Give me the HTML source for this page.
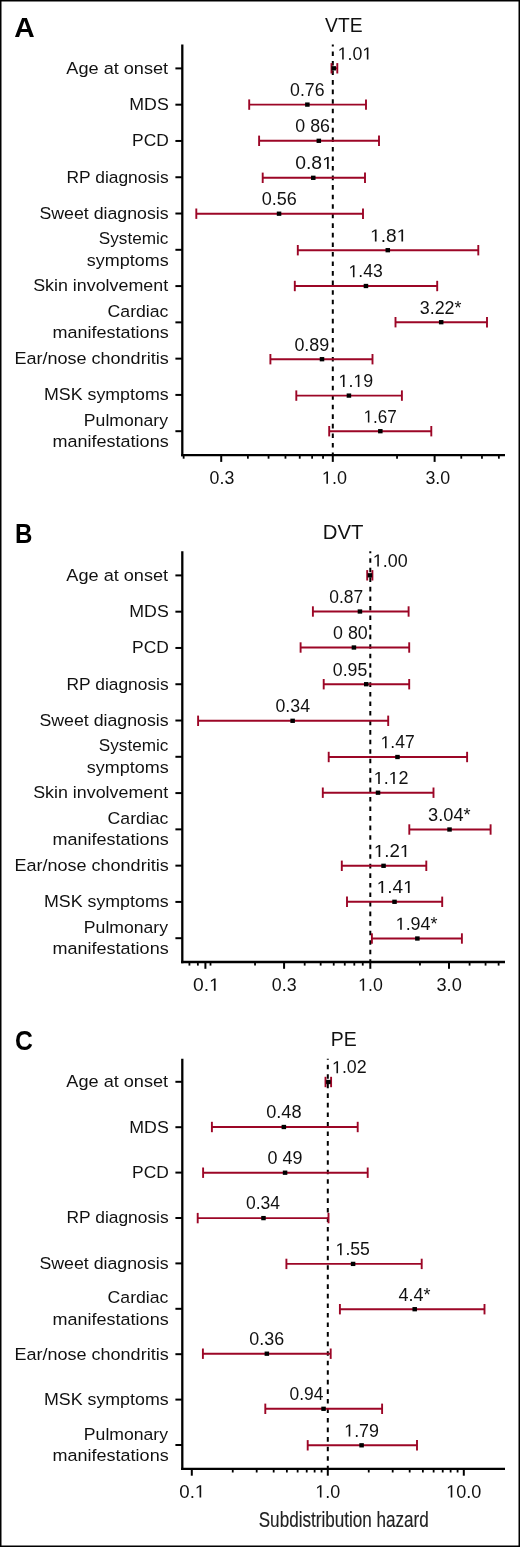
<!DOCTYPE html>
<html><head><meta charset="utf-8"><style>
html,body{margin:0;padding:0;background:#fff;}
body{width:520px;height:1547px;overflow:hidden;}
svg{display:block;will-change:transform;font-family:"Liberation Sans",sans-serif;}
</style></head><body>
<svg width="520" height="1547" viewBox="0 0 520 1547">
<rect x="0" y="0" width="520" height="1547" fill="#fff"/>
<rect x="0.75" y="0.75" width="518.5" height="1545.5" fill="none" stroke="#000" stroke-width="1.5"/>
<text x="14.29" y="36.70" font-size="27" textLength="20.45" lengthAdjust="spacingAndGlyphs" font-weight="bold" fill="#000">A</text>
<text x="325.12" y="32.20" font-size="20.5" textLength="37.41" lengthAdjust="spacingAndGlyphs" fill="#111">VTE</text>
<line x1="182.30" y1="44.50" x2="182.30" y2="456.30" stroke="#000" stroke-width="2.3"/>
<line x1="181.15" y1="455.10" x2="505.00" y2="455.10" stroke="#000" stroke-width="2.4"/>
<line x1="221.22" y1="455.10" x2="221.22" y2="461.90" stroke="#000" stroke-width="2"/>
<line x1="332.80" y1="455.10" x2="332.80" y2="461.90" stroke="#000" stroke-width="2"/>
<line x1="434.62" y1="455.10" x2="434.62" y2="461.90" stroke="#000" stroke-width="2"/>
<line x1="183.64" y1="455.10" x2="183.64" y2="458.70" stroke="#000" stroke-width="1.8"/>
<line x1="247.88" y1="455.10" x2="247.88" y2="458.70" stroke="#000" stroke-width="1.8"/>
<line x1="268.56" y1="455.10" x2="268.56" y2="458.70" stroke="#000" stroke-width="1.8"/>
<line x1="285.46" y1="455.10" x2="285.46" y2="458.70" stroke="#000" stroke-width="1.8"/>
<line x1="299.74" y1="455.10" x2="299.74" y2="458.70" stroke="#000" stroke-width="1.8"/>
<line x1="312.12" y1="455.10" x2="312.12" y2="458.70" stroke="#000" stroke-width="1.8"/>
<line x1="323.04" y1="455.10" x2="323.04" y2="458.70" stroke="#000" stroke-width="1.8"/>
<line x1="397.04" y1="455.10" x2="397.04" y2="458.70" stroke="#000" stroke-width="1.8"/>
<line x1="461.28" y1="455.10" x2="461.28" y2="458.70" stroke="#000" stroke-width="1.8"/>
<line x1="481.96" y1="455.10" x2="481.96" y2="458.70" stroke="#000" stroke-width="1.8"/>
<line x1="498.86" y1="455.10" x2="498.86" y2="458.70" stroke="#000" stroke-width="1.8"/>
<text x="209.61" y="483.80" font-size="17.8" textLength="24.67" lengthAdjust="spacingAndGlyphs" fill="#111">0.3</text>
<polygon points="326.40,483.80 326.40,473.05 323.60,475.02 323.60,473.54 326.53,471.55 327.99,471.55 327.99,483.80" fill="#111"/>
<text x="321.87" y="483.80" font-size="17.8" textLength="25.04" lengthAdjust="spacingAndGlyphs" fill="#111"> .0</text>
<text x="425.42" y="483.80" font-size="17.8" textLength="24.77" lengthAdjust="spacingAndGlyphs" fill="#111">3.0</text>
<line x1="332.80" y1="44.50" x2="332.80" y2="454.10" stroke="#000" stroke-width="2" stroke-dasharray="4.6 4.95" stroke-dashoffset="2.65"/>
<line x1="175.40" y1="68.40" x2="182.30" y2="68.40" stroke="#000" stroke-width="2"/>
<text x="66.36" y="73.70" font-size="17.2" textLength="101.77" lengthAdjust="spacingAndGlyphs" fill="#111">Age at onset</text>
<line x1="331.50" y1="68.30" x2="337.30" y2="68.30" stroke="#9c0626" stroke-width="1.9"/>
<line x1="331.50" y1="63.10" x2="331.50" y2="73.50" stroke="#9c0626" stroke-width="1.9"/>
<line x1="337.30" y1="63.10" x2="337.30" y2="73.50" stroke="#9c0626" stroke-width="1.9"/>
<rect x="331.47" y="66.15" width="4.50" height="4.30" fill="#000"/>
<polygon points="342.16,59.60 342.16,49.03 339.40,50.97 339.40,49.52 342.29,47.56 343.72,47.56 343.72,59.60" fill="#111"/>
<polygon points="366.83,59.60 366.83,49.03 364.08,50.97 364.08,49.52 366.96,47.56 368.40,47.56 368.40,59.60" fill="#111"/>
<text x="337.69" y="59.60" font-size="17.5" textLength="34.55" lengthAdjust="spacingAndGlyphs" fill="#111"> .0 </text>
<line x1="175.40" y1="104.68" x2="182.30" y2="104.68" stroke="#000" stroke-width="2"/>
<text x="129.34" y="109.98" font-size="17.2" textLength="39.47" lengthAdjust="spacingAndGlyphs" fill="#111">MDS</text>
<line x1="249.20" y1="104.60" x2="366.00" y2="104.60" stroke="#9c0626" stroke-width="1.9"/>
<line x1="249.20" y1="99.40" x2="249.20" y2="109.80" stroke="#9c0626" stroke-width="1.9"/>
<line x1="366.00" y1="99.40" x2="366.00" y2="109.80" stroke="#9c0626" stroke-width="1.9"/>
<rect x="305.12" y="102.45" width="4.50" height="4.30" fill="#000"/>
<text x="290.06" y="95.90" font-size="17.5" textLength="34.47" lengthAdjust="spacingAndGlyphs" fill="#111">0.76</text>
<line x1="175.40" y1="140.96" x2="182.30" y2="140.96" stroke="#000" stroke-width="2"/>
<text x="132.07" y="146.26" font-size="17.2" textLength="36.76" lengthAdjust="spacingAndGlyphs" fill="#111">PCD</text>
<line x1="259.10" y1="140.80" x2="379.00" y2="140.80" stroke="#9c0626" stroke-width="1.9"/>
<line x1="259.10" y1="135.60" x2="259.10" y2="146.00" stroke="#9c0626" stroke-width="1.9"/>
<line x1="379.00" y1="135.60" x2="379.00" y2="146.00" stroke="#9c0626" stroke-width="1.9"/>
<rect x="316.57" y="138.65" width="4.50" height="4.30" fill="#000"/>
<text x="295.30" y="132.10" font-size="17.5" textLength="34.68" lengthAdjust="spacingAndGlyphs" fill="#111">0 86</text>
<line x1="175.40" y1="177.24" x2="182.30" y2="177.24" stroke="#000" stroke-width="2"/>
<text x="66.58" y="182.54" font-size="17.2" textLength="102.05" lengthAdjust="spacingAndGlyphs" fill="#111">RP diagnosis</text>
<line x1="262.70" y1="177.80" x2="365.00" y2="177.80" stroke="#9c0626" stroke-width="1.9"/>
<line x1="262.70" y1="172.60" x2="262.70" y2="183.00" stroke="#9c0626" stroke-width="1.9"/>
<line x1="365.00" y1="172.60" x2="365.00" y2="183.00" stroke="#9c0626" stroke-width="1.9"/>
<rect x="311.02" y="175.65" width="4.50" height="4.30" fill="#000"/>
<polygon points="326.99,169.10 326.99,158.53 323.99,160.47 323.99,159.02 327.13,157.06 328.70,157.06 328.70,169.10" fill="#111"/>
<text x="295.24" y="169.10" font-size="17.5" textLength="37.64" lengthAdjust="spacingAndGlyphs" fill="#111">0.8 </text>
<line x1="175.40" y1="213.52" x2="182.30" y2="213.52" stroke="#000" stroke-width="2"/>
<text x="39.49" y="218.82" font-size="17.2" textLength="129.15" lengthAdjust="spacingAndGlyphs" fill="#111">Sweet diagnosis</text>
<line x1="196.30" y1="213.70" x2="363.00" y2="213.70" stroke="#9c0626" stroke-width="1.9"/>
<line x1="196.30" y1="208.50" x2="196.30" y2="218.90" stroke="#9c0626" stroke-width="1.9"/>
<line x1="363.00" y1="208.50" x2="363.00" y2="218.90" stroke="#9c0626" stroke-width="1.9"/>
<rect x="276.81" y="211.55" width="4.50" height="4.30" fill="#000"/>
<text x="261.70" y="205.00" font-size="17.5" textLength="35.10" lengthAdjust="spacingAndGlyphs" fill="#111">0.56</text>
<line x1="175.40" y1="249.80" x2="182.30" y2="249.80" stroke="#000" stroke-width="2"/>
<text x="98.82" y="244.40" font-size="17.2" textLength="69.63" lengthAdjust="spacingAndGlyphs" fill="#111">Systemic</text>
<text x="86.80" y="265.60" font-size="17.2" textLength="81.85" lengthAdjust="spacingAndGlyphs" fill="#111">symptoms</text>
<line x1="297.80" y1="250.20" x2="478.30" y2="250.20" stroke="#9c0626" stroke-width="1.9"/>
<line x1="297.80" y1="245.00" x2="297.80" y2="255.40" stroke="#9c0626" stroke-width="1.9"/>
<line x1="478.30" y1="245.00" x2="478.30" y2="255.40" stroke="#9c0626" stroke-width="1.9"/>
<rect x="385.54" y="248.05" width="4.50" height="4.30" fill="#000"/>
<polygon points="374.87,241.50 374.87,230.93 371.90,232.87 371.90,231.42 375.01,229.46 376.55,229.46 376.55,241.50" fill="#111"/>
<polygon points="401.41,241.50 401.41,230.93 398.45,232.87 398.45,231.42 401.55,229.46 403.10,229.46 403.10,241.50" fill="#111"/>
<text x="370.06" y="241.50" font-size="17.5" textLength="37.17" lengthAdjust="spacingAndGlyphs" fill="#111"> .8 </text>
<line x1="175.40" y1="286.08" x2="182.30" y2="286.08" stroke="#000" stroke-width="2"/>
<text x="33.19" y="291.38" font-size="17.2" textLength="134.94" lengthAdjust="spacingAndGlyphs" fill="#111">Skin involvement</text>
<line x1="294.80" y1="286.00" x2="437.20" y2="286.00" stroke="#9c0626" stroke-width="1.9"/>
<line x1="294.80" y1="280.80" x2="294.80" y2="291.20" stroke="#9c0626" stroke-width="1.9"/>
<line x1="437.20" y1="280.80" x2="437.20" y2="291.20" stroke="#9c0626" stroke-width="1.9"/>
<rect x="363.70" y="283.85" width="4.50" height="4.30" fill="#000"/>
<polygon points="352.93,277.30 352.93,266.73 350.20,268.67 350.20,267.22 353.05,265.26 354.48,265.26 354.48,277.30" fill="#111"/>
<text x="348.51" y="277.30" font-size="17.5" textLength="34.16" lengthAdjust="spacingAndGlyphs" fill="#111"> .43</text>
<line x1="175.40" y1="322.36" x2="182.30" y2="322.36" stroke="#000" stroke-width="2"/>
<text x="107.60" y="316.96" font-size="17.2" textLength="60.86" lengthAdjust="spacingAndGlyphs" fill="#111">Cardiac</text>
<text x="52.60" y="338.16" font-size="17.2" textLength="116.05" lengthAdjust="spacingAndGlyphs" fill="#111">manifestations</text>
<line x1="395.50" y1="322.20" x2="487.00" y2="322.20" stroke="#9c0626" stroke-width="1.9"/>
<line x1="395.50" y1="317.00" x2="395.50" y2="327.40" stroke="#9c0626" stroke-width="1.9"/>
<line x1="487.00" y1="317.00" x2="487.00" y2="327.40" stroke="#9c0626" stroke-width="1.9"/>
<rect x="438.93" y="320.05" width="4.50" height="4.30" fill="#000"/>
<text x="419.72" y="313.50" font-size="17.5" textLength="41.76" lengthAdjust="spacingAndGlyphs" fill="#111">3.22*</text>
<line x1="175.40" y1="358.64" x2="182.30" y2="358.64" stroke="#000" stroke-width="2"/>
<text x="14.52" y="363.94" font-size="17.2" textLength="154.13" lengthAdjust="spacingAndGlyphs" fill="#111">Ear/nose chondritis</text>
<line x1="270.40" y1="359.20" x2="372.50" y2="359.20" stroke="#9c0626" stroke-width="1.9"/>
<line x1="270.40" y1="354.00" x2="270.40" y2="364.40" stroke="#9c0626" stroke-width="1.9"/>
<line x1="372.50" y1="354.00" x2="372.50" y2="364.40" stroke="#9c0626" stroke-width="1.9"/>
<rect x="319.75" y="357.05" width="4.50" height="4.30" fill="#000"/>
<text x="294.40" y="350.50" font-size="17.5" textLength="34.85" lengthAdjust="spacingAndGlyphs" fill="#111">0.89</text>
<line x1="175.40" y1="394.92" x2="182.30" y2="394.92" stroke="#000" stroke-width="2"/>
<text x="43.94" y="400.22" font-size="17.2" textLength="124.70" lengthAdjust="spacingAndGlyphs" fill="#111">MSK symptoms</text>
<line x1="296.30" y1="395.60" x2="401.90" y2="395.60" stroke="#9c0626" stroke-width="1.9"/>
<line x1="296.30" y1="390.40" x2="296.30" y2="400.80" stroke="#9c0626" stroke-width="1.9"/>
<line x1="401.90" y1="390.40" x2="401.90" y2="400.80" stroke="#9c0626" stroke-width="1.9"/>
<rect x="346.67" y="393.45" width="4.50" height="4.30" fill="#000"/>
<polygon points="342.96,386.90 342.96,376.33 340.20,378.27 340.20,376.82 343.10,374.86 344.54,374.86 344.54,386.90" fill="#111"/>
<polygon points="357.82,386.90 357.82,376.33 355.05,378.27 355.05,376.82 357.95,374.86 359.39,374.86 359.39,386.90" fill="#111"/>
<text x="338.49" y="386.90" font-size="17.5" textLength="34.66" lengthAdjust="spacingAndGlyphs" fill="#111"> . 9</text>
<line x1="175.40" y1="431.20" x2="182.30" y2="431.20" stroke="#000" stroke-width="2"/>
<text x="83.86" y="425.80" font-size="17.2" textLength="84.18" lengthAdjust="spacingAndGlyphs" fill="#111">Pulmonary</text>
<text x="52.60" y="447.00" font-size="17.2" textLength="116.05" lengthAdjust="spacingAndGlyphs" fill="#111">manifestations</text>
<line x1="329.20" y1="431.20" x2="431.30" y2="431.20" stroke="#9c0626" stroke-width="1.9"/>
<line x1="329.20" y1="426.00" x2="329.20" y2="436.40" stroke="#9c0626" stroke-width="1.9"/>
<line x1="431.30" y1="426.00" x2="431.30" y2="436.40" stroke="#9c0626" stroke-width="1.9"/>
<rect x="378.08" y="429.05" width="4.50" height="4.30" fill="#000"/>
<polygon points="367.86,422.50 367.86,411.93 365.20,413.87 365.20,412.42 367.98,410.46 369.37,410.46 369.37,422.50" fill="#111"/>
<text x="363.55" y="422.50" font-size="17.5" textLength="33.31" lengthAdjust="spacingAndGlyphs" fill="#111"> .67</text>
<text x="15.09" y="543.20" font-size="27" textLength="17.41" lengthAdjust="spacingAndGlyphs" font-weight="bold" fill="#000">B</text>
<text x="322.73" y="538.80" font-size="20.5" textLength="40.63" lengthAdjust="spacingAndGlyphs" fill="#111">DVT</text>
<line x1="182.30" y1="551.30" x2="182.30" y2="963.20" stroke="#000" stroke-width="2.3"/>
<line x1="181.15" y1="962.00" x2="505.00" y2="962.00" stroke="#000" stroke-width="2.4"/>
<line x1="205.40" y1="962.00" x2="205.40" y2="968.80" stroke="#000" stroke-width="2"/>
<line x1="284.08" y1="962.00" x2="284.08" y2="968.80" stroke="#000" stroke-width="2"/>
<line x1="370.30" y1="962.00" x2="370.30" y2="968.80" stroke="#000" stroke-width="2"/>
<line x1="448.98" y1="962.00" x2="448.98" y2="968.80" stroke="#000" stroke-width="2"/>
<line x1="189.42" y1="962.00" x2="189.42" y2="965.60" stroke="#000" stroke-width="1.8"/>
<line x1="197.85" y1="962.00" x2="197.85" y2="965.60" stroke="#000" stroke-width="1.8"/>
<line x1="255.04" y1="962.00" x2="255.04" y2="965.60" stroke="#000" stroke-width="1.8"/>
<line x1="304.68" y1="962.00" x2="304.68" y2="965.60" stroke="#000" stroke-width="1.8"/>
<line x1="320.66" y1="962.00" x2="320.66" y2="965.60" stroke="#000" stroke-width="1.8"/>
<line x1="333.72" y1="962.00" x2="333.72" y2="965.60" stroke="#000" stroke-width="1.8"/>
<line x1="344.76" y1="962.00" x2="344.76" y2="965.60" stroke="#000" stroke-width="1.8"/>
<line x1="354.32" y1="962.00" x2="354.32" y2="965.60" stroke="#000" stroke-width="1.8"/>
<line x1="362.75" y1="962.00" x2="362.75" y2="965.60" stroke="#000" stroke-width="1.8"/>
<line x1="419.94" y1="962.00" x2="419.94" y2="965.60" stroke="#000" stroke-width="1.8"/>
<line x1="469.58" y1="962.00" x2="469.58" y2="965.60" stroke="#000" stroke-width="1.8"/>
<line x1="485.56" y1="962.00" x2="485.56" y2="965.60" stroke="#000" stroke-width="1.8"/>
<line x1="498.62" y1="962.00" x2="498.62" y2="965.60" stroke="#000" stroke-width="1.8"/>
<line x1="210.50" y1="962.00" x2="210.50" y2="965.60" stroke="#000" stroke-width="1.8"/>
<polygon points="213.89,990.70 213.89,979.95 210.90,981.92 210.90,980.44 214.04,978.45 215.60,978.45 215.60,990.70" fill="#111"/>
<text x="192.95" y="990.70" font-size="17.8" textLength="26.83" lengthAdjust="spacingAndGlyphs" fill="#111">0. </text>
<text x="271.80" y="990.70" font-size="17.8" textLength="24.78" lengthAdjust="spacingAndGlyphs" fill="#111">0.3</text>
<polygon points="362.56,990.70 362.56,979.95 359.80,981.92 359.80,980.44 362.69,978.45 364.13,978.45 364.13,990.70" fill="#111"/>
<text x="358.09" y="990.70" font-size="17.8" textLength="24.70" lengthAdjust="spacingAndGlyphs" fill="#111"> .0</text>
<text x="436.51" y="990.70" font-size="17.8" textLength="25.30" lengthAdjust="spacingAndGlyphs" fill="#111">3.0</text>
<line x1="370.30" y1="551.30" x2="370.30" y2="961.00" stroke="#000" stroke-width="2" stroke-dasharray="4.6 4.95" stroke-dashoffset="2.65"/>
<line x1="175.40" y1="575.40" x2="182.30" y2="575.40" stroke="#000" stroke-width="2"/>
<text x="66.36" y="580.70" font-size="17.2" textLength="101.77" lengthAdjust="spacingAndGlyphs" fill="#111">Age at onset</text>
<line x1="367.20" y1="575.30" x2="372.40" y2="575.30" stroke="#9c0626" stroke-width="1.9"/>
<line x1="367.20" y1="570.10" x2="367.20" y2="580.50" stroke="#9c0626" stroke-width="1.9"/>
<line x1="372.40" y1="570.10" x2="372.40" y2="580.50" stroke="#9c0626" stroke-width="1.9"/>
<rect x="367.65" y="573.15" width="4.50" height="4.30" fill="#000"/>
<polygon points="377.28,566.60 377.28,556.03 374.50,557.97 374.50,556.52 377.41,554.56 378.86,554.56 378.86,566.60" fill="#111"/>
<text x="372.78" y="566.60" font-size="17.5" textLength="34.82" lengthAdjust="spacingAndGlyphs" fill="#111"> .00</text>
<line x1="175.40" y1="611.68" x2="182.30" y2="611.68" stroke="#000" stroke-width="2"/>
<text x="129.34" y="616.98" font-size="17.2" textLength="39.47" lengthAdjust="spacingAndGlyphs" fill="#111">MDS</text>
<line x1="312.90" y1="611.50" x2="408.60" y2="611.50" stroke="#9c0626" stroke-width="1.9"/>
<line x1="312.90" y1="606.30" x2="312.90" y2="616.70" stroke="#9c0626" stroke-width="1.9"/>
<line x1="408.60" y1="606.30" x2="408.60" y2="616.70" stroke="#9c0626" stroke-width="1.9"/>
<rect x="357.68" y="609.35" width="4.50" height="4.30" fill="#000"/>
<text x="329.32" y="602.80" font-size="17.5" textLength="33.85" lengthAdjust="spacingAndGlyphs" fill="#111">0.87</text>
<line x1="175.40" y1="647.96" x2="182.30" y2="647.96" stroke="#000" stroke-width="2"/>
<text x="132.07" y="653.26" font-size="17.2" textLength="36.76" lengthAdjust="spacingAndGlyphs" fill="#111">PCD</text>
<line x1="300.60" y1="647.50" x2="409.20" y2="647.50" stroke="#9c0626" stroke-width="1.9"/>
<line x1="300.60" y1="642.30" x2="300.60" y2="652.70" stroke="#9c0626" stroke-width="1.9"/>
<line x1="409.20" y1="642.30" x2="409.20" y2="652.70" stroke="#9c0626" stroke-width="1.9"/>
<rect x="351.67" y="645.35" width="4.50" height="4.30" fill="#000"/>
<text x="333.10" y="638.80" font-size="17.5" textLength="34.69" lengthAdjust="spacingAndGlyphs" fill="#111">0 80</text>
<line x1="175.40" y1="684.24" x2="182.30" y2="684.24" stroke="#000" stroke-width="2"/>
<text x="66.58" y="689.54" font-size="17.2" textLength="102.05" lengthAdjust="spacingAndGlyphs" fill="#111">RP diagnosis</text>
<line x1="323.70" y1="684.20" x2="409.20" y2="684.20" stroke="#9c0626" stroke-width="1.9"/>
<line x1="323.70" y1="679.00" x2="323.70" y2="689.40" stroke="#9c0626" stroke-width="1.9"/>
<line x1="409.20" y1="679.00" x2="409.20" y2="689.40" stroke="#9c0626" stroke-width="1.9"/>
<rect x="363.98" y="682.05" width="4.50" height="4.30" fill="#000"/>
<text x="332.81" y="675.50" font-size="17.5" textLength="34.43" lengthAdjust="spacingAndGlyphs" fill="#111">0.95</text>
<line x1="175.40" y1="720.52" x2="182.30" y2="720.52" stroke="#000" stroke-width="2"/>
<text x="39.49" y="725.82" font-size="17.2" textLength="129.15" lengthAdjust="spacingAndGlyphs" fill="#111">Sweet diagnosis</text>
<line x1="198.10" y1="720.80" x2="388.20" y2="720.80" stroke="#9c0626" stroke-width="1.9"/>
<line x1="198.10" y1="715.60" x2="198.10" y2="726.00" stroke="#9c0626" stroke-width="1.9"/>
<line x1="388.20" y1="715.60" x2="388.20" y2="726.00" stroke="#9c0626" stroke-width="1.9"/>
<rect x="290.39" y="718.65" width="4.50" height="4.30" fill="#000"/>
<text x="275.51" y="712.10" font-size="17.5" textLength="34.51" lengthAdjust="spacingAndGlyphs" fill="#111">0.34</text>
<line x1="175.40" y1="756.80" x2="182.30" y2="756.80" stroke="#000" stroke-width="2"/>
<text x="98.82" y="751.40" font-size="17.2" textLength="69.63" lengthAdjust="spacingAndGlyphs" fill="#111">Systemic</text>
<text x="86.80" y="772.60" font-size="17.2" textLength="81.85" lengthAdjust="spacingAndGlyphs" fill="#111">symptoms</text>
<line x1="328.70" y1="757.00" x2="467.10" y2="757.00" stroke="#9c0626" stroke-width="1.9"/>
<line x1="328.70" y1="751.80" x2="328.70" y2="762.20" stroke="#9c0626" stroke-width="1.9"/>
<line x1="467.10" y1="751.80" x2="467.10" y2="762.20" stroke="#9c0626" stroke-width="1.9"/>
<rect x="395.24" y="754.85" width="4.50" height="4.30" fill="#000"/>
<polygon points="385.02,748.30 385.02,737.73 382.30,739.67 382.30,738.22 385.15,736.26 386.56,736.26 386.56,748.30" fill="#111"/>
<text x="380.62" y="748.30" font-size="17.5" textLength="34.06" lengthAdjust="spacingAndGlyphs" fill="#111"> .47</text>
<line x1="175.40" y1="793.08" x2="182.30" y2="793.08" stroke="#000" stroke-width="2"/>
<text x="33.19" y="798.38" font-size="17.2" textLength="134.94" lengthAdjust="spacingAndGlyphs" fill="#111">Skin involvement</text>
<line x1="322.80" y1="792.70" x2="433.50" y2="792.70" stroke="#9c0626" stroke-width="1.9"/>
<line x1="322.80" y1="787.50" x2="322.80" y2="797.90" stroke="#9c0626" stroke-width="1.9"/>
<line x1="433.50" y1="787.50" x2="433.50" y2="797.90" stroke="#9c0626" stroke-width="1.9"/>
<rect x="375.77" y="790.55" width="4.50" height="4.30" fill="#000"/>
<polygon points="378.19,784.00 378.19,773.43 375.40,775.37 375.40,773.92 378.32,771.96 379.77,771.96 379.77,784.00" fill="#111"/>
<polygon points="393.15,784.00 393.15,773.43 390.37,775.37 390.37,773.92 393.29,771.96 394.74,771.96 394.74,784.00" fill="#111"/>
<text x="373.67" y="784.00" font-size="17.5" textLength="34.93" lengthAdjust="spacingAndGlyphs" fill="#111"> . 2</text>
<line x1="175.40" y1="829.36" x2="182.30" y2="829.36" stroke="#000" stroke-width="2"/>
<text x="107.60" y="823.96" font-size="17.2" textLength="60.86" lengthAdjust="spacingAndGlyphs" fill="#111">Cardiac</text>
<text x="52.60" y="845.16" font-size="17.2" textLength="116.05" lengthAdjust="spacingAndGlyphs" fill="#111">manifestations</text>
<line x1="409.30" y1="829.50" x2="490.60" y2="829.50" stroke="#9c0626" stroke-width="1.9"/>
<line x1="409.30" y1="824.30" x2="409.30" y2="834.70" stroke="#9c0626" stroke-width="1.9"/>
<line x1="490.60" y1="824.30" x2="490.60" y2="834.70" stroke="#9c0626" stroke-width="1.9"/>
<rect x="447.28" y="827.35" width="4.50" height="4.30" fill="#000"/>
<text x="428.11" y="820.80" font-size="17.5" textLength="42.48" lengthAdjust="spacingAndGlyphs" fill="#111">3.04*</text>
<line x1="175.40" y1="865.64" x2="182.30" y2="865.64" stroke="#000" stroke-width="2"/>
<text x="14.52" y="870.94" font-size="17.2" textLength="154.13" lengthAdjust="spacingAndGlyphs" fill="#111">Ear/nose chondritis</text>
<line x1="341.80" y1="865.80" x2="426.30" y2="865.80" stroke="#9c0626" stroke-width="1.9"/>
<line x1="341.80" y1="860.60" x2="341.80" y2="871.00" stroke="#9c0626" stroke-width="1.9"/>
<line x1="426.30" y1="860.60" x2="426.30" y2="871.00" stroke="#9c0626" stroke-width="1.9"/>
<rect x="381.30" y="863.65" width="4.50" height="4.30" fill="#000"/>
<polygon points="378.60,857.10 378.60,846.53 375.70,848.47 375.70,847.02 378.74,845.06 380.25,845.06 380.25,857.10" fill="#111"/>
<polygon points="404.55,857.10 404.55,846.53 401.65,848.47 401.65,847.02 404.69,845.06 406.20,845.06 406.20,857.10" fill="#111"/>
<text x="373.90" y="857.10" font-size="17.5" textLength="36.33" lengthAdjust="spacingAndGlyphs" fill="#111"> .2 </text>
<line x1="175.40" y1="901.92" x2="182.30" y2="901.92" stroke="#000" stroke-width="2"/>
<text x="43.94" y="907.22" font-size="17.2" textLength="124.70" lengthAdjust="spacingAndGlyphs" fill="#111">MSK symptoms</text>
<line x1="347.00" y1="901.80" x2="442.20" y2="901.80" stroke="#9c0626" stroke-width="1.9"/>
<line x1="347.00" y1="896.60" x2="347.00" y2="907.00" stroke="#9c0626" stroke-width="1.9"/>
<line x1="442.20" y1="896.60" x2="442.20" y2="907.00" stroke="#9c0626" stroke-width="1.9"/>
<rect x="392.26" y="899.65" width="4.50" height="4.30" fill="#000"/>
<polygon points="381.46,893.10 381.46,882.53 378.50,884.47 378.50,883.02 381.60,881.06 383.14,881.06 383.14,893.10" fill="#111"/>
<polygon points="407.92,893.10 407.92,882.53 404.96,884.47 404.96,883.02 408.06,881.06 409.60,881.06 409.60,893.10" fill="#111"/>
<text x="376.67" y="893.10" font-size="17.5" textLength="37.05" lengthAdjust="spacingAndGlyphs" fill="#111"> .4 </text>
<line x1="175.40" y1="938.20" x2="182.30" y2="938.20" stroke="#000" stroke-width="2"/>
<text x="83.86" y="932.80" font-size="17.2" textLength="84.18" lengthAdjust="spacingAndGlyphs" fill="#111">Pulmonary</text>
<text x="52.60" y="954.00" font-size="17.2" textLength="116.05" lengthAdjust="spacingAndGlyphs" fill="#111">manifestations</text>
<line x1="371.90" y1="938.50" x2="461.90" y2="938.50" stroke="#9c0626" stroke-width="1.9"/>
<line x1="371.90" y1="933.30" x2="371.90" y2="943.70" stroke="#9c0626" stroke-width="1.9"/>
<line x1="461.90" y1="933.30" x2="461.90" y2="943.70" stroke="#9c0626" stroke-width="1.9"/>
<rect x="415.11" y="936.35" width="4.50" height="4.30" fill="#000"/>
<polygon points="400.19,929.80 400.19,919.23 397.40,921.17 397.40,919.72 400.32,917.76 401.77,917.76 401.77,929.80" fill="#111"/>
<text x="395.67" y="929.80" font-size="17.5" textLength="41.91" lengthAdjust="spacingAndGlyphs" fill="#111"> .94*</text>
<text x="14.88" y="1050.00" font-size="27" textLength="17.89" lengthAdjust="spacingAndGlyphs" font-weight="bold" fill="#000">C</text>
<text x="330.71" y="1046.10" font-size="20.5" textLength="25.93" lengthAdjust="spacingAndGlyphs" fill="#111">PE</text>
<line x1="182.30" y1="1058.70" x2="182.30" y2="1470.10" stroke="#000" stroke-width="2.3"/>
<line x1="181.15" y1="1468.90" x2="505.00" y2="1468.90" stroke="#000" stroke-width="2.4"/>
<line x1="191.80" y1="1468.90" x2="191.80" y2="1475.70" stroke="#000" stroke-width="2"/>
<line x1="327.80" y1="1468.90" x2="327.80" y2="1475.70" stroke="#000" stroke-width="2"/>
<line x1="463.80" y1="1468.90" x2="463.80" y2="1475.70" stroke="#000" stroke-width="2"/>
<line x1="232.74" y1="1468.90" x2="232.74" y2="1472.50" stroke="#000" stroke-width="1.8"/>
<line x1="256.69" y1="1468.90" x2="256.69" y2="1472.50" stroke="#000" stroke-width="1.8"/>
<line x1="273.68" y1="1468.90" x2="273.68" y2="1472.50" stroke="#000" stroke-width="1.8"/>
<line x1="286.86" y1="1468.90" x2="286.86" y2="1472.50" stroke="#000" stroke-width="1.8"/>
<line x1="297.63" y1="1468.90" x2="297.63" y2="1472.50" stroke="#000" stroke-width="1.8"/>
<line x1="306.73" y1="1468.90" x2="306.73" y2="1472.50" stroke="#000" stroke-width="1.8"/>
<line x1="314.62" y1="1468.90" x2="314.62" y2="1472.50" stroke="#000" stroke-width="1.8"/>
<line x1="321.58" y1="1468.90" x2="321.58" y2="1472.50" stroke="#000" stroke-width="1.8"/>
<line x1="368.74" y1="1468.90" x2="368.74" y2="1472.50" stroke="#000" stroke-width="1.8"/>
<line x1="392.69" y1="1468.90" x2="392.69" y2="1472.50" stroke="#000" stroke-width="1.8"/>
<line x1="409.68" y1="1468.90" x2="409.68" y2="1472.50" stroke="#000" stroke-width="1.8"/>
<line x1="422.86" y1="1468.90" x2="422.86" y2="1472.50" stroke="#000" stroke-width="1.8"/>
<line x1="433.63" y1="1468.90" x2="433.63" y2="1472.50" stroke="#000" stroke-width="1.8"/>
<line x1="442.73" y1="1468.90" x2="442.73" y2="1472.50" stroke="#000" stroke-width="1.8"/>
<line x1="450.62" y1="1468.90" x2="450.62" y2="1472.50" stroke="#000" stroke-width="1.8"/>
<line x1="457.58" y1="1468.90" x2="457.58" y2="1472.50" stroke="#000" stroke-width="1.8"/>
<polygon points="199.55,1497.60 199.55,1486.85 196.65,1488.82 196.65,1487.34 199.69,1485.35 201.20,1485.35 201.20,1497.60" fill="#111"/>
<text x="179.27" y="1497.60" font-size="17.8" textLength="25.97" lengthAdjust="spacingAndGlyphs" fill="#111">0. </text>
<polygon points="319.88,1497.60 319.88,1486.85 317.10,1488.82 317.10,1487.34 320.02,1485.35 321.47,1485.35 321.47,1497.60" fill="#111"/>
<text x="315.38" y="1497.60" font-size="17.8" textLength="24.93" lengthAdjust="spacingAndGlyphs" fill="#111"> .0</text>
<polygon points="450.70,1497.60 450.70,1486.85 447.90,1488.82 447.90,1487.34 450.84,1485.35 452.30,1485.35 452.30,1497.60" fill="#111"/>
<text x="446.16" y="1497.60" font-size="17.8" textLength="35.14" lengthAdjust="spacingAndGlyphs" fill="#111"> 0.0</text>
<line x1="327.80" y1="1058.70" x2="327.80" y2="1467.90" stroke="#000" stroke-width="2" stroke-dasharray="4.6 4.95" stroke-dashoffset="3.6"/>
<line x1="175.40" y1="1081.80" x2="182.30" y2="1081.80" stroke="#000" stroke-width="2"/>
<text x="66.36" y="1087.10" font-size="17.2" textLength="101.77" lengthAdjust="spacingAndGlyphs" fill="#111">Age at onset</text>
<line x1="325.50" y1="1082.00" x2="331.10" y2="1082.00" stroke="#9c0626" stroke-width="1.9"/>
<line x1="325.50" y1="1076.80" x2="325.50" y2="1087.20" stroke="#9c0626" stroke-width="1.9"/>
<line x1="331.10" y1="1076.80" x2="331.10" y2="1087.20" stroke="#9c0626" stroke-width="1.9"/>
<rect x="326.12" y="1079.85" width="4.50" height="4.30" fill="#000"/>
<polygon points="336.47,1073.30 336.47,1062.73 333.70,1064.67 333.70,1063.22 336.60,1061.26 338.05,1061.26 338.05,1073.30" fill="#111"/>
<text x="331.98" y="1073.30" font-size="17.5" textLength="34.71" lengthAdjust="spacingAndGlyphs" fill="#111"> .02</text>
<line x1="175.40" y1="1127.20" x2="182.30" y2="1127.20" stroke="#000" stroke-width="2"/>
<text x="129.34" y="1132.50" font-size="17.2" textLength="39.47" lengthAdjust="spacingAndGlyphs" fill="#111">MDS</text>
<line x1="211.90" y1="1127.00" x2="357.70" y2="1127.00" stroke="#9c0626" stroke-width="1.9"/>
<line x1="211.90" y1="1121.80" x2="211.90" y2="1132.20" stroke="#9c0626" stroke-width="1.9"/>
<line x1="357.70" y1="1121.80" x2="357.70" y2="1132.20" stroke="#9c0626" stroke-width="1.9"/>
<rect x="281.60" y="1124.85" width="4.50" height="4.30" fill="#000"/>
<text x="266.19" y="1118.30" font-size="17.5" textLength="35.40" lengthAdjust="spacingAndGlyphs" fill="#111">0.48</text>
<line x1="175.40" y1="1172.60" x2="182.30" y2="1172.60" stroke="#000" stroke-width="2"/>
<text x="132.07" y="1177.90" font-size="17.2" textLength="36.76" lengthAdjust="spacingAndGlyphs" fill="#111">PCD</text>
<line x1="203.10" y1="1172.70" x2="367.70" y2="1172.70" stroke="#9c0626" stroke-width="1.9"/>
<line x1="203.10" y1="1167.50" x2="203.10" y2="1177.90" stroke="#9c0626" stroke-width="1.9"/>
<line x1="367.70" y1="1167.50" x2="367.70" y2="1177.90" stroke="#9c0626" stroke-width="1.9"/>
<rect x="282.82" y="1170.55" width="4.50" height="4.30" fill="#000"/>
<text x="267.50" y="1164.00" font-size="17.5" textLength="34.85" lengthAdjust="spacingAndGlyphs" fill="#111">0 49</text>
<line x1="175.40" y1="1218.00" x2="182.30" y2="1218.00" stroke="#000" stroke-width="2"/>
<text x="66.58" y="1223.30" font-size="17.2" textLength="102.05" lengthAdjust="spacingAndGlyphs" fill="#111">RP diagnosis</text>
<line x1="197.70" y1="1218.10" x2="328.50" y2="1218.10" stroke="#9c0626" stroke-width="1.9"/>
<line x1="197.70" y1="1212.90" x2="197.70" y2="1223.30" stroke="#9c0626" stroke-width="1.9"/>
<line x1="328.50" y1="1212.90" x2="328.50" y2="1223.30" stroke="#9c0626" stroke-width="1.9"/>
<rect x="261.23" y="1215.95" width="4.50" height="4.30" fill="#000"/>
<text x="245.92" y="1209.40" font-size="17.5" textLength="34.10" lengthAdjust="spacingAndGlyphs" fill="#111">0.34</text>
<line x1="175.40" y1="1263.40" x2="182.30" y2="1263.40" stroke="#000" stroke-width="2"/>
<text x="39.49" y="1268.70" font-size="17.2" textLength="129.15" lengthAdjust="spacingAndGlyphs" fill="#111">Sweet diagnosis</text>
<line x1="286.40" y1="1263.90" x2="421.70" y2="1263.90" stroke="#9c0626" stroke-width="1.9"/>
<line x1="286.40" y1="1258.70" x2="286.40" y2="1269.10" stroke="#9c0626" stroke-width="1.9"/>
<line x1="421.70" y1="1258.70" x2="421.70" y2="1269.10" stroke="#9c0626" stroke-width="1.9"/>
<rect x="350.84" y="1261.75" width="4.50" height="4.30" fill="#000"/>
<polygon points="340.04,1255.20 340.04,1244.63 337.30,1246.57 337.30,1245.12 340.17,1243.16 341.60,1243.16 341.60,1255.20" fill="#111"/>
<text x="335.60" y="1255.20" font-size="17.5" textLength="34.34" lengthAdjust="spacingAndGlyphs" fill="#111"> .55</text>
<line x1="175.40" y1="1308.80" x2="182.30" y2="1308.80" stroke="#000" stroke-width="2"/>
<text x="107.60" y="1303.40" font-size="17.2" textLength="60.86" lengthAdjust="spacingAndGlyphs" fill="#111">Cardiac</text>
<text x="52.60" y="1324.60" font-size="17.2" textLength="116.05" lengthAdjust="spacingAndGlyphs" fill="#111">manifestations</text>
<line x1="339.90" y1="1309.20" x2="484.50" y2="1309.20" stroke="#9c0626" stroke-width="1.9"/>
<line x1="339.90" y1="1304.00" x2="339.90" y2="1314.40" stroke="#9c0626" stroke-width="1.9"/>
<line x1="484.50" y1="1304.00" x2="484.50" y2="1314.40" stroke="#9c0626" stroke-width="1.9"/>
<rect x="412.46" y="1307.05" width="4.50" height="4.30" fill="#000"/>
<text x="398.49" y="1300.50" font-size="17.5" textLength="32.10" lengthAdjust="spacingAndGlyphs" fill="#111">4.4*</text>
<line x1="175.40" y1="1354.20" x2="182.30" y2="1354.20" stroke="#000" stroke-width="2"/>
<text x="14.52" y="1359.50" font-size="17.2" textLength="154.13" lengthAdjust="spacingAndGlyphs" fill="#111">Ear/nose chondritis</text>
<line x1="202.90" y1="1353.70" x2="330.70" y2="1353.70" stroke="#9c0626" stroke-width="1.9"/>
<line x1="202.90" y1="1348.50" x2="202.90" y2="1358.90" stroke="#9c0626" stroke-width="1.9"/>
<line x1="330.70" y1="1348.50" x2="330.70" y2="1358.90" stroke="#9c0626" stroke-width="1.9"/>
<rect x="264.61" y="1351.55" width="4.50" height="4.30" fill="#000"/>
<text x="249.30" y="1345.00" font-size="17.5" textLength="34.78" lengthAdjust="spacingAndGlyphs" fill="#111">0.36</text>
<line x1="175.40" y1="1399.60" x2="182.30" y2="1399.60" stroke="#000" stroke-width="2"/>
<text x="43.94" y="1404.90" font-size="17.2" textLength="124.70" lengthAdjust="spacingAndGlyphs" fill="#111">MSK symptoms</text>
<line x1="265.30" y1="1408.80" x2="382.10" y2="1408.80" stroke="#9c0626" stroke-width="1.9"/>
<line x1="265.30" y1="1403.60" x2="265.30" y2="1414.00" stroke="#9c0626" stroke-width="1.9"/>
<line x1="382.10" y1="1403.60" x2="382.10" y2="1414.00" stroke="#9c0626" stroke-width="1.9"/>
<rect x="321.30" y="1406.65" width="4.50" height="4.30" fill="#000"/>
<text x="289.52" y="1400.10" font-size="17.5" textLength="33.89" lengthAdjust="spacingAndGlyphs" fill="#111">0.94</text>
<line x1="175.40" y1="1445.00" x2="182.30" y2="1445.00" stroke="#000" stroke-width="2"/>
<text x="83.86" y="1439.60" font-size="17.2" textLength="84.18" lengthAdjust="spacingAndGlyphs" fill="#111">Pulmonary</text>
<text x="52.60" y="1460.80" font-size="17.2" textLength="116.05" lengthAdjust="spacingAndGlyphs" fill="#111">manifestations</text>
<line x1="307.70" y1="1445.30" x2="417.00" y2="1445.30" stroke="#9c0626" stroke-width="1.9"/>
<line x1="307.70" y1="1440.10" x2="307.70" y2="1450.50" stroke="#9c0626" stroke-width="1.9"/>
<line x1="417.00" y1="1440.10" x2="417.00" y2="1450.50" stroke="#9c0626" stroke-width="1.9"/>
<rect x="359.34" y="1443.15" width="4.50" height="4.30" fill="#000"/>
<polygon points="348.68,1436.60 348.68,1426.03 345.90,1427.97 345.90,1426.52 348.81,1424.56 350.27,1424.56 350.27,1436.60" fill="#111"/>
<text x="344.18" y="1436.60" font-size="17.5" textLength="34.87" lengthAdjust="spacingAndGlyphs" fill="#111"> .79</text>
<text x="258.72" y="1526.80" font-size="22.5" textLength="170.08" lengthAdjust="spacingAndGlyphs" fill="#222" stroke="#222" stroke-width="0.15">Subdistribution hazard</text>
</svg>
</body></html>
